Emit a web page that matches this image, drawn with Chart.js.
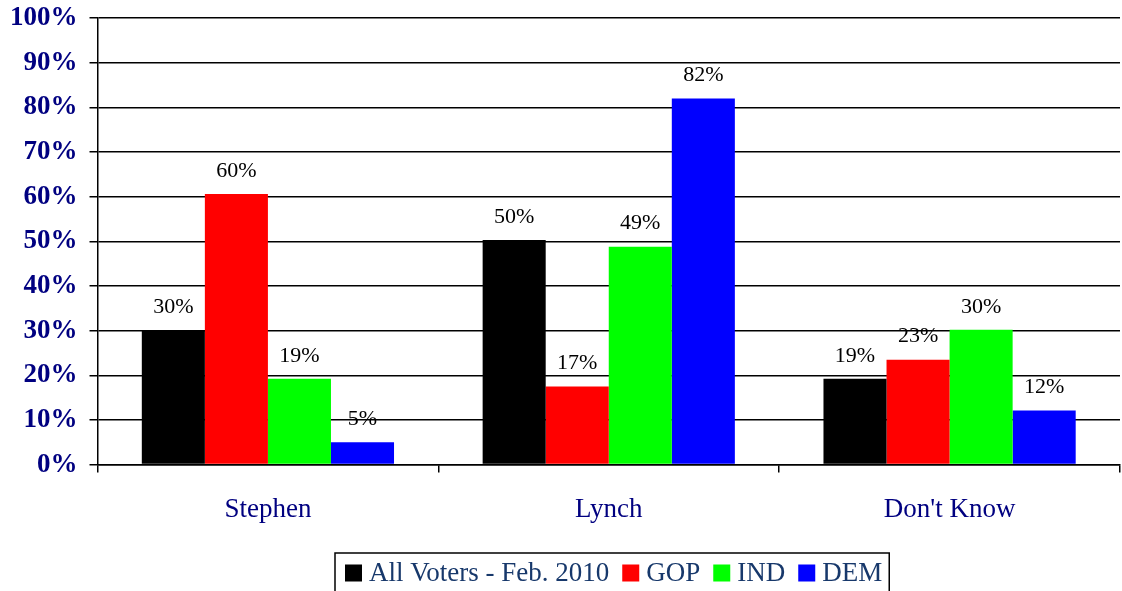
<!DOCTYPE html>
<html lang="en">
<head>
  <meta charset="UTF-8">
  <title>Stephen vs Lynch</title>
  <script src="https://cdn.jsdelivr.net/npm/chart.js"></script>
  <style>
    html, body { margin: 0; padding: 0; background: #fff; overflow: hidden; }
    #wrap { width: 1122px; height: 591px; }
  </style>
</head>
<body>
  <div id="wrap"><canvas id="chart"></canvas></div>
  <script>
    const categories = ["Stephen", "Lynch", "Don't Know"];
    const seriesNames = ["All Voters - Feb. 2010", "GOP", "IND", "DEM"];
    const seriesColors = ["#000000", "#ff0000", "#00ff00", "#0000ff"];
    // bar heights
    const allVoters = [30.0, 50.3, 19.2];
    const gop = [60.6, 17.5, 23.5];
    const ind = [19.2, 48.8, 30.2];
    const dem = [5.0, 82.0, 12.1];
    // printed labels
    const allVotersLabels = [30, 50, 19];
    const gopLabels = [60, 17, 23];
    const indLabels = [19, 49, 30];
    const demLabels = [5, 82, 12];
    const yTicks = [0, 10, 20, 30, 40, 50, 60, 70, 80, 90, 100];

    const serif = "'Liberation Serif', 'Times New Roman', serif";
    const values = [allVoters, gop, ind, dem];
    const labels = [allVotersLabels, gopLabels, indLabels, demLabels];

    const valueLabels = {
      id: 'valueLabels',
      afterDatasetsDraw(chart) {
        const ctx = chart.ctx;
        ctx.save();
        ctx.font = "22px " + serif;
        ctx.fillStyle = "#000";
        ctx.textAlign = "center";
        ctx.textBaseline = "middle";
        chart.data.datasets.forEach((ds, i) => {
          chart.getDatasetMeta(i).data.forEach((bar, j) => {
            ctx.fillText(labels[i][j] + "%", bar.x, bar.y - 23);
          });
        });
        ctx.restore();
      }
    };

    // framed legend, drawn by hand: it sits right of centre and is cut by the bottom edge
    const boxedLegend = {
      id: 'boxedLegend',
      afterDraw(chart) {
        const ctx = chart.ctx;
        const left = 335, top = 553, midY = 573, sq = 17;
        ctx.save();
        ctx.font = "27px " + serif;
        ctx.textBaseline = "middle";
        let x = left + 10;
        chart.data.datasets.forEach((ds, i) => {
          ctx.fillStyle = ds.backgroundColor;
          ctx.fillRect(x, midY - sq / 2, sq, sq);
          x += sq + 7;
          ctx.fillStyle = "#17386b";
          ctx.fillText(ds.label, x, midY + 1);
          x += ctx.measureText(ds.label).width + 13;
        });
        ctx.strokeStyle = "#000";
        ctx.lineWidth = 1.5;
        ctx.strokeRect(left, top, x - left - 6, 50);
        ctx.restore();
      }
    };

    new Chart(document.getElementById("chart"), {
      type: 'bar',
      data: {
        labels: categories,
        datasets: seriesNames.map((name, i) => ({
          label: name,
          data: values[i],
          backgroundColor: seriesColors[i],
          borderWidth: 0,
          categoryPercentage: 0.74,
          barPercentage: 1.0
        }))
      },
      options: {
        responsive: true,
        maintainAspectRatio: false,
        animation: false,
        layout: { padding: { top: 0, right: 2, left: -2, bottom: 44 } },
        plugins: {
          tooltip: { enabled: false },
          legend: { display: false }
        },
        scales: {
          x: {
            offset: true,
            grid: {
              offset: true,
              drawOnChartArea: false,
              drawTicks: true,
              tickLength: 8,
              color: "#000",
              lineWidth: 1.5
            },
            border: { color: "#000", width: 1.5 },
            ticks: {
              color: "#000080",
              padding: 21,
              font: { family: serif, size: 27 }
            }
          },
          y: {
            min: 0,
            max: 100,
            afterBuildTicks(scale) { scale.ticks = yTicks.map(v => ({ value: v })); },
            afterFit(scale) { scale.paddingTop = 18; },
            grid: {
              color: "#000",
              lineWidth: 1.5,
              tickLength: 8
            },
            border: { color: "#000", width: 1.5 },
            ticks: {
              color: "#000080",
              padding: 12,
              font: { family: serif, size: 27, weight: 'bold' },
              callback: v => v + "%"
            }
          }
        }
      },
      plugins: [valueLabels, boxedLegend]
    });
  </script>
</body>
</html>
